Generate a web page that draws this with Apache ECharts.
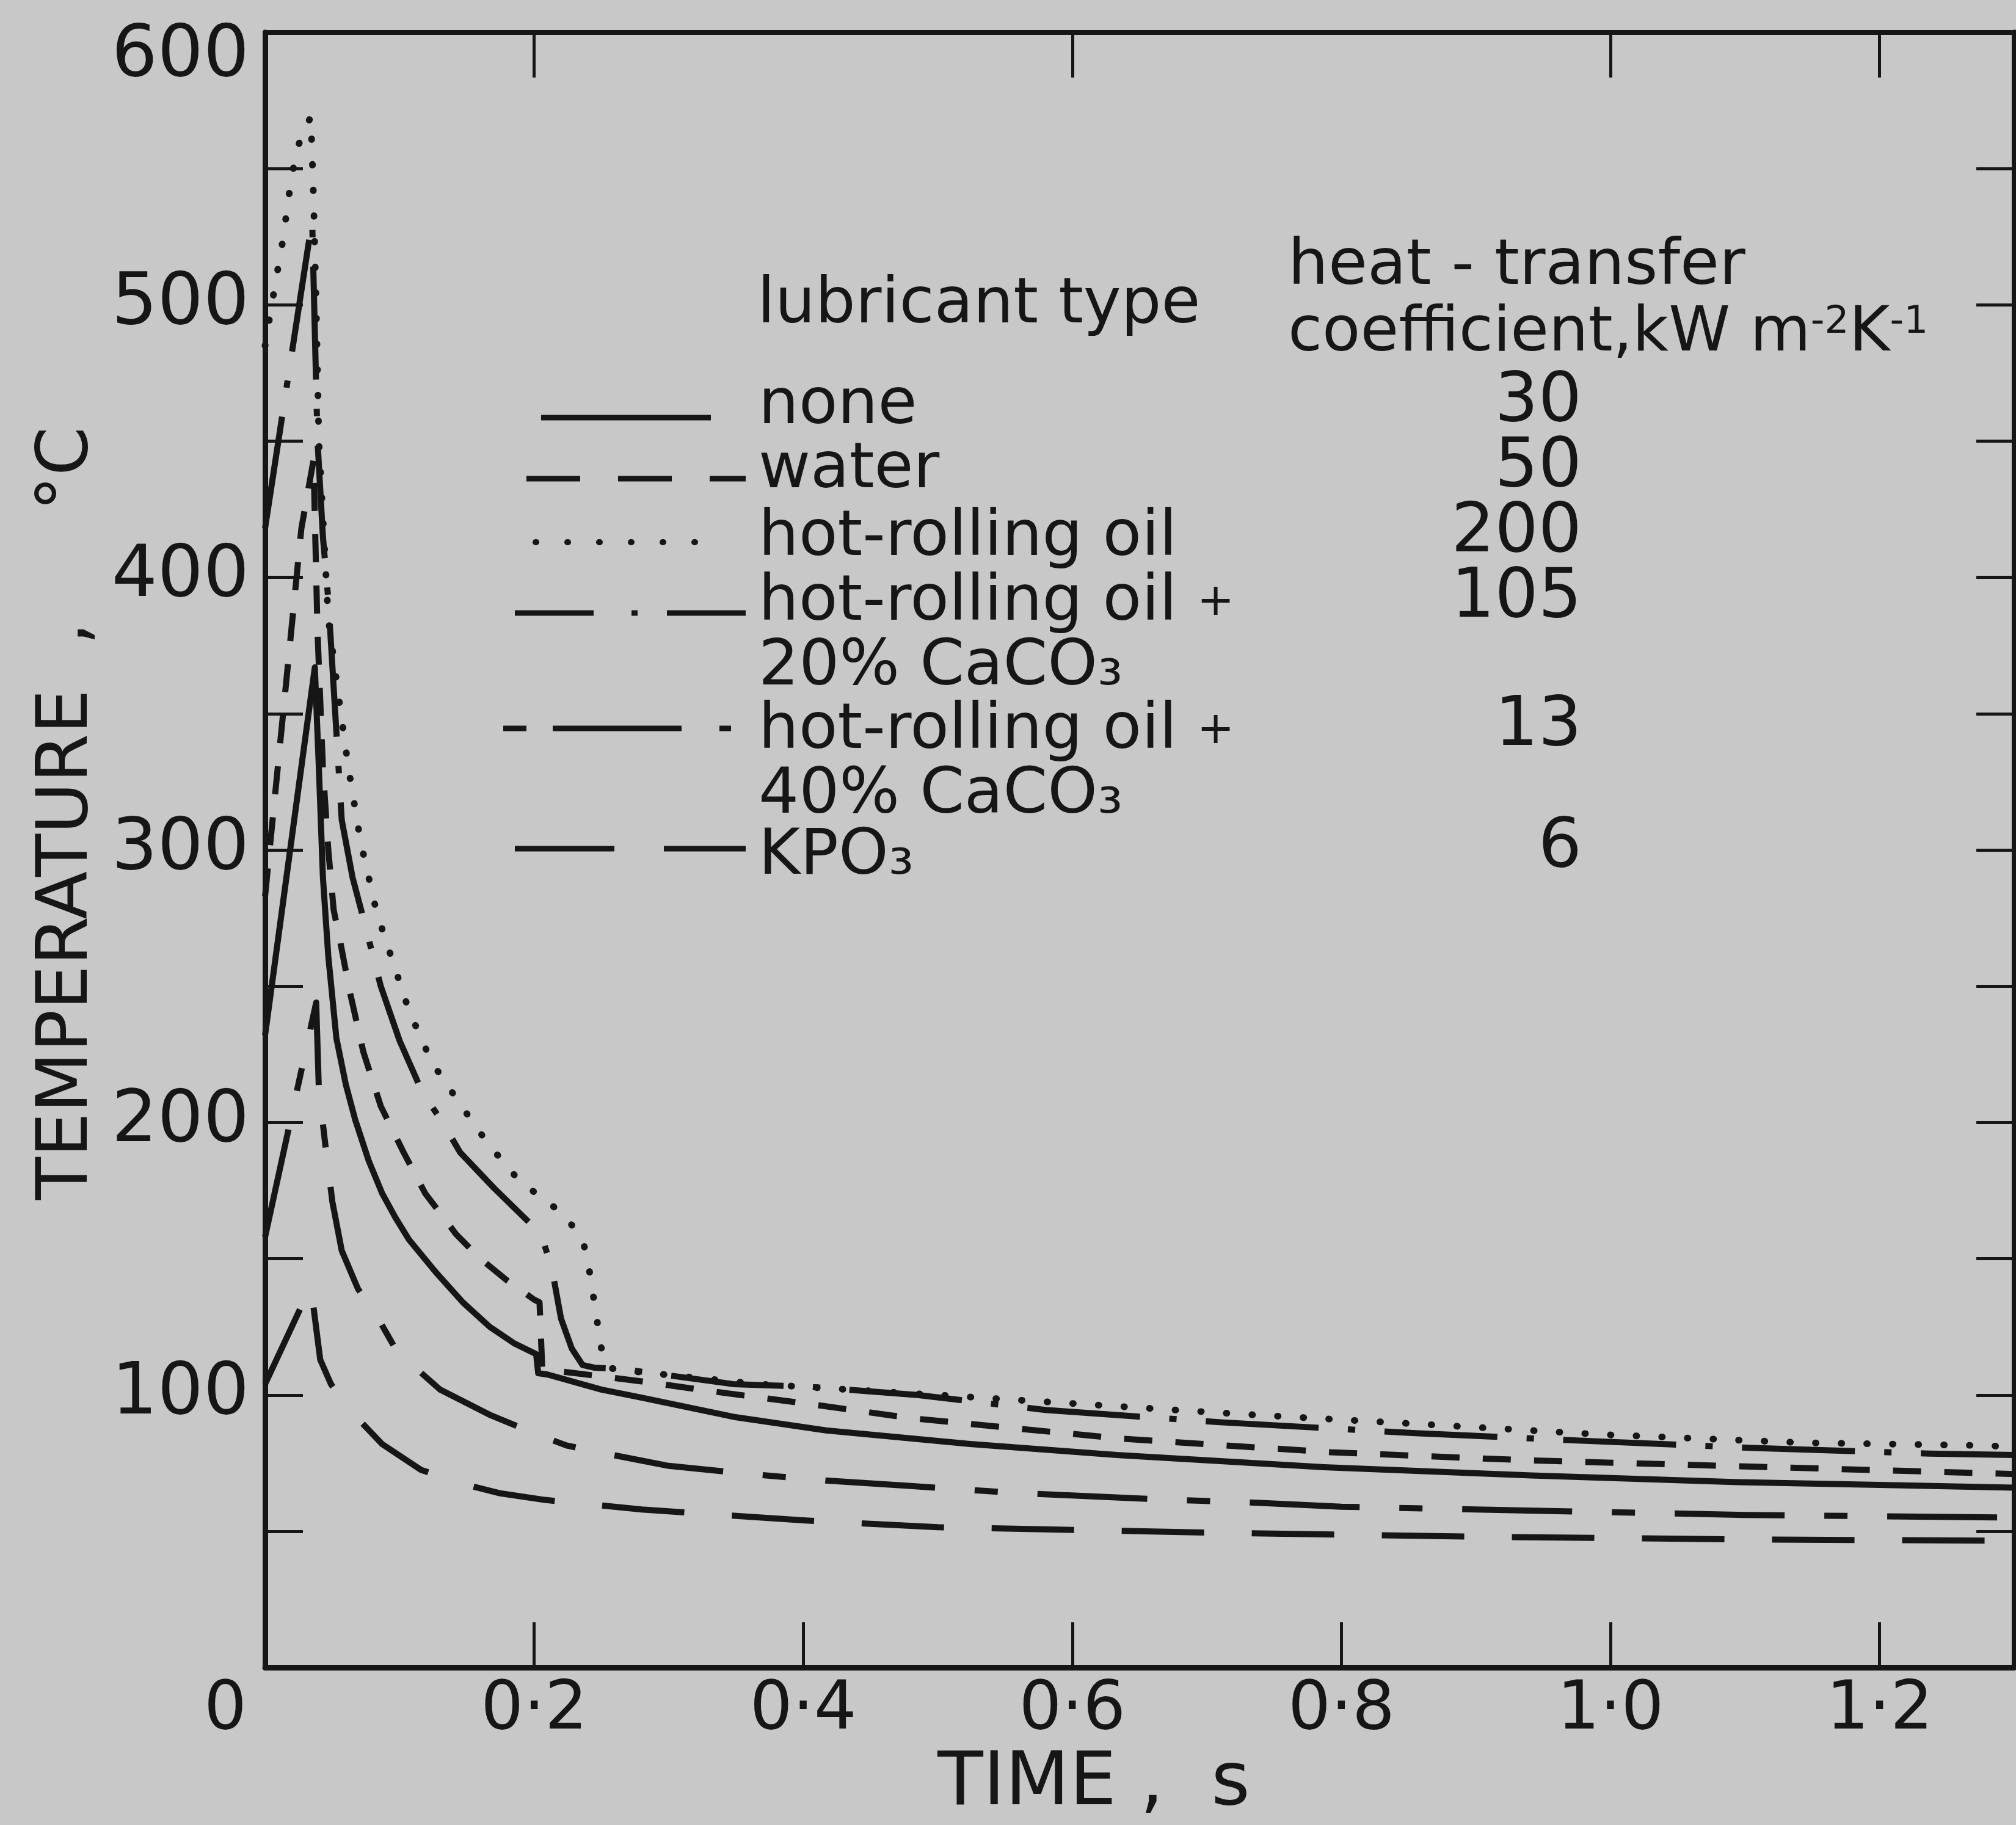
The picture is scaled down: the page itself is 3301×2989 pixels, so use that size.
<!DOCTYPE html>
<html>
<head>
<meta charset="utf-8">
<script src="https://cdn.jsdelivr.net/npm/echarts@6/dist/echarts.min.js"></script>
<style>
  html, body { margin: 0; padding: 0; background: #c8c8c8; }
  #chart { width: 3301px; height: 2989px; }
</style>
</head>
<body>
<div id="chart"></div>
<script>
// Die-surface temperature (°C) against time (s) for six lubricants.
const lubricantLines = [
  ['none'],
  ['water'],
  ['hot-rolling oil'],
  ['hot-rolling oil +', '20% CaCO₃'],
  ['hot-rolling oil +', '40% CaCO₃'],
  ['KPO₃']
];
const heatTransferCoeff = ['30', '50', '200', '105', '13', '6'];

const timeTickLabels = ['0', '0·2', '0·4', '0·6', '0·8', '1·0', '1·2'];
const tempTickLabels = ['100', '200', '300', '400', '500', '600'];
const topTickTimes = [0.2, 0.6, 1.0, 1.2];

const tNone = [0, 0.037, 0.040, 0.043, 0.047, 0.053, 0.060, 0.067, 0.077, 0.087, 0.097, 0.107, 0.127, 0.147, 0.167, 0.185, 0.2015, 0.203, 0.21, 0.25, 0.28, 0.348, 0.417, 0.524, 0.633, 0.787, 0.941, 1.095, 1.2, 1.3];
const TNone = [232, 367, 330, 290, 261, 231, 214, 201, 186, 174, 165, 157, 145, 134, 125, 119, 115, 108, 107.5, 102, 99, 92, 87, 82, 78, 73.5, 70.5, 68, 67, 66];

const tWater = [0, 0.009, 0.018, 0.027, 0.036, 0.039, 0.043, 0.047, 0.051, 0.056, 0.063, 0.073, 0.086, 0.103, 0.119, 0.142, 0.16, 0.18, 0.2, 0.204, 0.206, 0.214, 0.28, 0.33, 0.4, 0.48, 0.636, 0.792, 0.94, 1.085, 1.265, 1.3];
const TWater = [283, 328, 373, 418, 443, 380, 330, 300, 278, 266, 248, 226, 206, 189, 174, 159, 150, 142, 135, 134, 110, 109, 105, 101.5, 97, 91.5, 84, 79, 76, 74, 71.5, 71];

const tOil = [0, 0.008, 0.013, 0.018, 0.023, 0.028, 0.034, 0.036, 0.038, 0.040, 0.047, 0.055, 0.062, 0.071, 0.083, 0.095, 0.107, 0.124, 0.146, 0.166, 0.19, 0.21, 0.224, 0.236, 0.24, 0.245, 0.25, 0.255, 0.267, 0.367, 0.5, 0.725, 0.87, 0.993, 1.142, 1.273, 1.3];
const TOil = [485, 509, 523, 541, 556, 563, 569, 540, 500, 450, 385, 355, 330, 303, 277, 259, 241, 222, 206, 192, 178, 171, 165, 157, 149, 133, 117, 110, 109, 104, 100, 93, 89, 85.5, 82.5, 81.5, 81];

const tOil20 = [0, 0.017, 0.035, 0.037, 0.039, 0.043, 0.047, 0.057, 0.065, 0.073, 0.086, 0.1, 0.117, 0.132, 0.145, 0.17, 0.197, 0.207, 0.213, 0.22, 0.228, 0.236, 0.245, 0.266, 0.348, 0.405, 0.485, 0.58, 0.71, 0.855, 0.99, 1.11, 1.237, 1.3];
const TOil20 = [418, 473, 531, 490, 450, 415, 392, 311, 290, 275, 250, 230, 211, 200, 189, 176, 163, 156, 147, 128, 117, 111, 110, 109.5, 104, 103, 100, 94.5, 90, 86, 83, 80.5, 78.5, 78];

const tOil40 = [0, 0.038, 0.040, 0.045, 0.05, 0.057, 0.069, 0.083, 0.098, 0.13, 0.168, 0.205, 0.224, 0.248, 0.3, 0.36, 0.42, 0.48, 0.56, 0.65, 0.74, 0.8, 0.9, 1.0, 1.1, 1.2, 1.3];
const TOil40 = [158, 244, 212, 191, 171, 153, 139, 129, 116, 102, 92.5, 85, 81.5, 79, 74, 71, 68.5, 66.6, 64, 62, 60.4, 59, 58, 57, 56, 55.5, 55];

const tKpo3 = [0, 0.034, 0.041, 0.049, 0.06, 0.087, 0.116, 0.15, 0.174, 0.208, 0.28, 0.4, 0.5, 0.7, 0.9, 1.1, 1.3];
const TKpo3 = [104, 140, 113, 104, 96, 82, 72.5, 67, 64, 61.5, 58, 54, 51.5, 49.5, 48, 47, 46.5];

const INK = '#161616';
const FONT = '"DejaVu Sans", sans-serif';
const FAMILY = 'DejaVu Sans';

const zip = (ts, vs) => ts.map((t, i) => [t, vs[i]]);

// line dash patterns, one per lubricant (same order as lubricantLines)
const dashes = [
  'solid',
  [46, 38],
  [1, 41],
  [185, 48, 12, 48],
  [180, 65, 38, 65],
  [135, 78]
];
const seriesData = [
  zip(tNone, TNone),
  zip(tWater, TWater),
  zip(tOil, TOil),
  zip(tOil20, TOil20),
  zip(tOil40, TOil40),
  zip(tKpo3, TKpo3)
];

const series = seriesData.map((data, i) => ({
  type: 'line',
  name: lubricantLines[i].join(' '),
  data: data,
  symbol: 'none',
  showSymbol: false,
  silent: true,
  lineStyle: {
    color: INK,
    width: i === 2 ? 11 : 10,
    type: dashes[i],
    cap: i === 2 ? 'round' : 'butt',
    join: 'round'
  }
}));

// legend table drawn inside the plot
const rowBaselines = [702, 807, 918, 1024, 1234, 1440];
const secondLineBaselines = { 3: 1130, 4: 1340 };
const coeffBaselines = [699, 806, 913, 1020, 1230, 1429];
const sampleRows = [
  { x1: 886, x2: 1164, y: 684, dash: null },
  { x1: 862, x2: 1221, y: 784, dash: [88, 62] },
  { x1: 877, x2: 1140, y: 888, dash: [1, 51], cap: 'round' },
  { x1: 843, x2: 1221, y: 1004, dash: [129, 62, 10, 48] },
  { x1: 824, x2: 1197, y: 1193, dash: [38, 43, 211, 62, 19, 60] },
  { x1: 843, x2: 1221, y: 1390, dash: [163, 81, 134, 50] }
];
const TXT = 104;
const mid = (baseline, size) => baseline - 0.346 * size;
const richStyles = (size) => ({
  n: { fontSize: size, fontFamily: FAMILY, color: INK },
  sup: { fontSize: Math.round(size * 0.62), fontFamily: FAMILY, color: INK, verticalAlign: 'top' },
  plus: { fontSize: Math.round(size * 0.7), fontFamily: FAMILY, color: INK }
});
const text = (str, x, baseline, size, align) => ({
  type: 'text',
  silent: true,
  style: {
    text: str, x: x, y: mid(baseline, size),
    font: size + 'px ' + FONT, fill: INK,
    align: align || 'left', verticalAlign: 'middle',
    rich: richStyles(size)
  }
});
// marks a trailing " +" so it is set smaller, as in the printed key
const withPlus = (s) => s.endsWith(' +') ? '{n|' + s.slice(0, -1) + '}{plus|+}' : s;

const graphics = [];
graphics.push(text('lubricant type', 1240, 537, 104));
graphics.push(text('heat - transfer', 2109, 474, 104));
graphics.push(text('{n|coefficient,kW m}{sup|-2}{n|K}{sup|-1}', 2109, 583, 102));
lubricantLines.forEach((lines, i) => {
  graphics.push(text(withPlus(lines[0]), 1242, rowBaselines[i], TXT));
  if (lines[1]) graphics.push(text(lines[1], 1242, secondLineBaselines[i], TXT));
  graphics.push(text(heatTransferCoeff[i], 2590, coeffBaselines[i], 112, 'right'));
});
sampleRows.forEach((r) => {
  graphics.push({
    type: 'line', silent: true,
    shape: { x1: r.x1, y1: r.y, x2: r.x2, y2: r.y },
    style: { stroke: INK, lineWidth: r.cap ? 10 : 9, lineDash: r.dash, lineCap: r.cap || 'butt' }
  });
});

const chart = echarts.init(document.getElementById('chart'), null, { renderer: 'canvas' });
chart.setOption({
  animation: false,
  backgroundColor: '#c8c8c8',
  grid: { left: 434, top: 53, width: 2902, height: 2694, containLabel: false },
  xAxis: [
    {
      type: 'value', position: 'bottom', min: 0, max: 1.3, interval: 0.2,
      axisLine: { onZero: false, lineStyle: { color: INK, width: 9 } },
      axisTick: { inside: true, length: 74, lineStyle: { color: INK, width: 5 } },
      splitLine: { show: false },
      axisLabel: {
        margin: 16, fontSize: 110, fontFamily: FAMILY, color: INK,
        formatter: (v) => {
          const i = Math.round(v / 0.2);
          if (Math.abs(v - i * 0.2) > 1e-6 || i >= timeTickLabels.length) return '';
          return i === 0 ? '{o|' + timeTickLabels[0] + '}' : timeTickLabels[i];
        },
        rich: { o: { fontSize: 110, fontFamily: FAMILY, color: INK, padding: [0, 130, 0, 0] } }
      },
      name: 'TIME ,  s', nameLocation: 'middle', nameGap: 104,
      nameTextStyle: { fontSize: 122, fontFamily: FAMILY, color: INK, padding: [0, 150, 0, 0] }
    },
    {
      type: 'value', position: 'top', min: 0, max: 1.3,
      axisLine: { onZero: false, lineStyle: { color: INK, width: 8 } },
      axisTick: { inside: true, length: 74, customValues: topTickTimes, lineStyle: { color: INK, width: 5 } },
      axisLabel: { show: false },
      splitLine: { show: false }
    }
  ],
  yAxis: [
    {
      type: 'value', position: 'left', min: 0, max: 600, interval: 50,
      axisLine: { show: true, onZero: false, lineStyle: { color: INK, width: 9 } },
      axisTick: { inside: true, length: 62, lineStyle: { color: INK, width: 5 } },
      splitLine: { show: false },
      axisLabel: {
        margin: 26, fontSize: 118, fontFamily: FAMILY, color: INK,
        formatter: (v) => {
          if (v === 0 || v % 100 !== 0) return '';
          const s = tempTickLabels[v / 100 - 1];
          return v === 600 ? '{t|' + s + '}' : s;
        },
        rich: { t: { fontSize: 118, fontFamily: FAMILY, color: INK, padding: [80, 0, 0, 0] } }
      },
      name: 'TEMPERATURE  ,     °C', nameLocation: 'middle', nameRotate: 90, nameGap: 264,
      nameTextStyle: { fontSize: 115, fontFamily: FAMILY, color: INK, padding: [0, 0, 0, 120] }
    },
    {
      type: 'value', position: 'right', min: 0, max: 600, interval: 50,
      axisLine: { show: true, onZero: false, lineStyle: { color: INK, width: 9 } },
      axisTick: { inside: true, length: 62, lineStyle: { color: INK, width: 5 } },
      axisLabel: { show: false },
      splitLine: { show: false }
    }
  ],
  series: series,
  graphic: graphics
});
</script>
</body>
</html>
